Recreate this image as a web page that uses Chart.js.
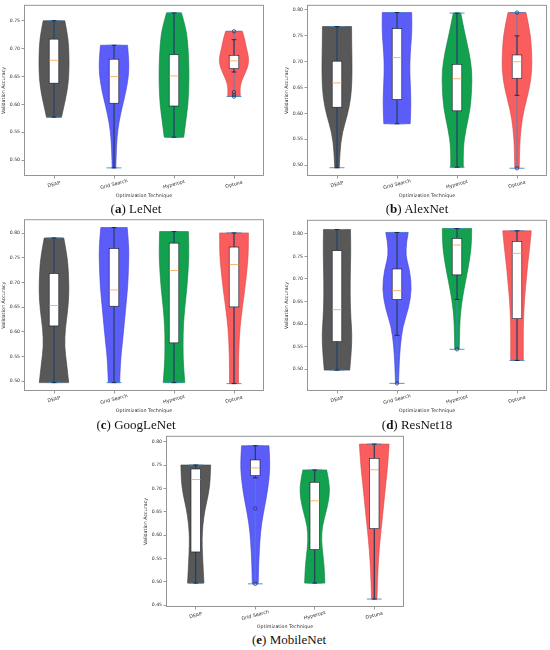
<!DOCTYPE html>
<html>
<head>
<meta charset="utf-8">
<script src="https://cdn.jsdelivr.net/npm/chart.js@4.4.1/dist/chart.umd.min.js"></script>
<style>
  body { margin: 0; background: #fff; width: 550px; height: 650px; position: relative; overflow: hidden; }
  canvas { position: absolute; }
  .cap { position: absolute; font-family: 'Liberation Serif', serif; font-size: 13px; color: #111;
         transform: translate(-50%, -50%); white-space: nowrap; }
</style>
</head>
<body>
<canvas id="lenet" width="272" height="200" style="left:0;top:0"></canvas>
<canvas id="alexnet" width="270" height="200" style="left:283px;top:0"></canvas>
<canvas id="googlenet" width="272" height="200" style="left:0;top:215px"></canvas>
<canvas id="resnet" width="270" height="200" style="left:283px;top:215px"></canvas>
<canvas id="mobilenet" width="270" height="200" style="left:142px;top:431px"></canvas>

<div class="cap" style="left:136px;top:209px">(<b>a</b>) LeNet</div>
<div class="cap" style="left:417px;top:209px">(<b>b</b>) AlexNet</div>
<div class="cap" style="left:136px;top:425px">(<b>c</b>) GoogLeNet</div>
<div class="cap" style="left:417px;top:425px">(<b>d</b>) ResNet18</div>
<div class="cap" style="left:289px;top:640px">(<b>e</b>) MobileNet</div>

<script>
const techniques = ['DEAP', 'Grid Search', 'Hyperopt', 'Optuna'];

// LeNet
const lenetMin = [0.577, 0.486, 0.541, 0.614];
const lenetMax = [0.750, 0.706, 0.764, 0.731];
const lenetQ1 = [0.638, 0.602, 0.597, 0.664];
const lenetMedian = [0.679, 0.650, 0.651, 0.678];
const lenetQ3 = [0.717, 0.681, 0.689, 0.688];
const lenetWhiskLo = [0.577, 0.486, 0.541, 0.658];
const lenetWhiskHi = [0.750, 0.706, 0.764, 0.716];
const lenetFliers = [[], [], [], [0.731, 0.622, 0.617, 0.614]];
const lenetDensity = [
  [0.50, 0.68, 0.85, 0.96, 1.00, 1.00, 0.97, 0.88, 0.72],
  [0.12, 0.15, 0.20, 0.33, 0.55, 0.80, 0.97, 1.00, 0.90],
  [0.65, 0.78, 0.92, 0.98, 1.00, 0.98, 0.92, 0.80, 0.50],
  [0.42, 0.38, 0.52, 0.78, 0.98, 0.96, 0.82, 0.72, 0.56]
];
const lenetTicks = [0.50, 0.55, 0.60, 0.65, 0.70, 0.75];
const lenetRange = [0.4714, 0.7786];

// AlexNet
const alexMin = [0.495, 0.580, 0.496, 0.494];
const alexMax = [0.768, 0.795, 0.794, 0.795];
const alexQ1 = [0.612, 0.627, 0.605, 0.668];
const alexMedian = [0.659, 0.708, 0.667, 0.700];
const alexQ3 = [0.701, 0.764, 0.695, 0.713];
const alexWhiskLo = [0.495, 0.580, 0.496, 0.635];
const alexWhiskHi = [0.768, 0.795, 0.794, 0.750];
const alexFliers = [[], [], [], [0.795, 0.494]];
const alexDensity = [
  [0.15, 0.20, 0.35, 0.70, 0.93, 1.00, 1.00, 0.98, 0.97],
  [0.88, 0.92, 0.92, 0.88, 0.85, 0.88, 0.95, 1.00, 0.98],
  [0.42, 0.40, 0.60, 0.88, 0.98, 1.00, 0.80, 0.50, 0.25],
  [0.15, 0.17, 0.25, 0.45, 0.80, 1.00, 0.98, 0.88, 0.60]
];
const alexTicks = [0.50, 0.55, 0.60, 0.65, 0.70, 0.75, 0.80];
const alexRange = [0.479, 0.810];

// GoogLeNet
const googMin = [0.497, 0.497, 0.497, 0.495];
const googMax = [0.7905, 0.8115, 0.8034, 0.8007];
const googQ1 = [0.612, 0.652, 0.5776, 0.6506];
const googMedian = [0.6534, 0.685, 0.7244, 0.7365];
const googQ3 = [0.7183, 0.769, 0.780, 0.772];
const googWhiskLo = [0.497, 0.497, 0.497, 0.495];
const googWhiskHi = [0.7905, 0.8115, 0.8034, 0.8007];
const googFliers = [[], [], [], []];
const googDensity = [
  [0.98, 0.85, 0.70, 0.75, 0.92, 1.00, 0.97, 0.88, 0.65],
  [0.38, 0.42, 0.55, 0.68, 0.80, 0.92, 0.97, 1.00, 0.88],
  [0.72, 0.62, 0.60, 0.62, 0.72, 0.86, 0.95, 1.00, 0.96],
  [0.30, 0.30, 0.33, 0.40, 0.55, 0.72, 0.86, 0.97, 0.96]
];
const googTicks = [0.50, 0.55, 0.60, 0.65, 0.70, 0.75, 0.80];
const googRange = [0.480, 0.8284];

// ResNet18
const resMin = [0.4978, 0.4684, 0.544, 0.5192];
const resMax = [0.8095, 0.8029, 0.8117, 0.8066];
const resQ1 = [0.561, 0.6544, 0.7089, 0.6118];
const resMedian = [0.6317, 0.674, 0.775, 0.7566];
const resQ3 = [0.7625, 0.722, 0.7897, 0.783];
const resWhiskLo = [0.4978, 0.575, 0.6544, 0.5192];
const resWhiskHi = [0.8095, 0.8029, 0.8117, 0.8066];
const resFliers = [[], [0.4684], [0.544], []];
const resDensity = [
  [0.85, 0.95, 1.00, 0.92, 0.88, 0.88, 0.90, 0.92, 0.90],
  [0.10, 0.14, 0.22, 0.38, 0.78, 0.98, 0.85, 0.50, 0.75],
  [0.15, 0.17, 0.20, 0.30, 0.47, 0.67, 0.85, 0.97, 0.98],
  [0.42, 0.42, 0.42, 0.45, 0.52, 0.62, 0.72, 0.85, 0.95]
];
const resTicks = [0.50, 0.55, 0.60, 0.65, 0.70, 0.75, 0.80];
const resRange = [0.4515, 0.831];

// MobileNet
const mobMin = [0.497, 0.4955, 0.497, 0.4628];
const mobMax = [0.7502, 0.7915, 0.7396, 0.795];
const mobQ1 = [0.5638, 0.7274, 0.5689, 0.6137];
const mobMedian = [0.719, 0.744, 0.6734, 0.740];
const mobQ3 = [0.7417, 0.761, 0.7132, 0.7644];
const mobWhiskLo = [0.497, 0.7225, 0.497, 0.4628];
const mobWhiskHi = [0.7502, 0.7915, 0.7396, 0.795];
const mobFliers = [[], [0.657, 0.4955], [], []];
const mobDensity = [
  [0.55, 0.50, 0.45, 0.42, 0.48, 0.62, 0.85, 0.98, 1.00],
  [0.20, 0.22, 0.28, 0.35, 0.52, 0.75, 0.92, 1.00, 0.92],
  [0.68, 0.65, 0.55, 0.45, 0.50, 0.75, 0.97, 1.00, 0.80],
  [0.18, 0.22, 0.28, 0.38, 0.52, 0.65, 0.78, 0.92, 1.00]
];
const mobTicks = [0.45, 0.50, 0.55, 0.60, 0.65, 0.70, 0.75, 0.80];
const mobRange = [0.4458, 0.8128];

// colours of the violins (DEAP, Grid Search, Hyperopt, Optuna)
const bodyColors = ['#585858', '#5c5cf8', '#13a14f', '#f95d5d'];
const edgeColors = ['#3e3e3e', '#3f3fd8', '#0b7f3c', '#d84646'];

Chart.defaults.font.family = "'DejaVu Sans', sans-serif";
Chart.defaults.color = '#333';

function drawViolins(chart, p) {
  const ctx = chart.ctx;
  const xs = chart.scales.x;
  const ys = chart.scales.y;
  const X = v => xs.getPixelForValue(v);
  const Y = v => ys.getPixelForValue(v);

  ctx.save();
  for (let i = 0; i < techniques.length; i++) {
    const pos = i + 1;
    const lo = p.min[i], hi = p.max[i];
    const dens = p.density[i];
    const n = dens.length;
    const right = [], left = [];
    for (let k = 0; k < n; k++) {
      const v = lo + (hi - lo) * k / (n - 1);
      right.push([X(pos + 0.25 * dens[k]), Y(v)]);
      left.push([X(pos - 0.25 * dens[k]), Y(v)]);
    }
    left.reverse();

    // body
    ctx.beginPath();
    ctx.moveTo(right[0][0], right[0][1]);
    for (let k = 1; k < n - 1; k++) {
      const mx = (right[k][0] + right[k + 1][0]) / 2, my = (right[k][1] + right[k + 1][1]) / 2;
      ctx.quadraticCurveTo(right[k][0], right[k][1], k === n - 2 ? right[n - 1][0] : mx, k === n - 2 ? right[n - 1][1] : my);
    }
    ctx.lineTo(left[0][0], left[0][1]);
    for (let k = 1; k < n - 1; k++) {
      const mx = (left[k][0] + left[k + 1][0]) / 2, my = (left[k][1] + left[k + 1][1]) / 2;
      ctx.quadraticCurveTo(left[k][0], left[k][1], k === n - 2 ? left[n - 1][0] : mx, k === n - 2 ? left[n - 1][1] : my);
    }
    ctx.closePath();
    ctx.fillStyle = bodyColors[i];
    ctx.fill();
    ctx.strokeStyle = edgeColors[i];
    ctx.lineWidth = 0.6;
    ctx.stroke();

    // violin bar and extrema
    ctx.strokeStyle = '#3d8cc8';
    ctx.lineWidth = 0.9;
    ctx.beginPath();
    ctx.moveTo(X(pos), Y(lo)); ctx.lineTo(X(pos), Y(hi));
    ctx.moveTo(X(pos - 0.125), Y(lo)); ctx.lineTo(X(pos + 0.125), Y(lo));
    ctx.moveTo(X(pos - 0.125), Y(hi)); ctx.lineTo(X(pos + 0.125), Y(hi));
    ctx.stroke();

    // box plot
    ctx.strokeStyle = '#15182a';
    ctx.lineWidth = 0.8;
    ctx.beginPath();
    ctx.moveTo(X(pos), Y(p.q3[i])); ctx.lineTo(X(pos), Y(p.whiskHi[i]));
    ctx.moveTo(X(pos), Y(p.q1[i])); ctx.lineTo(X(pos), Y(p.whiskLo[i]));
    ctx.moveTo(X(pos - 0.04), Y(p.whiskHi[i])); ctx.lineTo(X(pos + 0.04), Y(p.whiskHi[i]));
    ctx.moveTo(X(pos - 0.04), Y(p.whiskLo[i])); ctx.lineTo(X(pos + 0.04), Y(p.whiskLo[i]));
    ctx.stroke();

    const bx = X(pos - 0.08), bw = X(pos + 0.08) - bx;
    const by = Y(p.q3[i]), bh = Y(p.q1[i]) - by;
    ctx.fillStyle = '#ffffff';
    ctx.fillRect(bx, by, bw, bh);
    ctx.lineWidth = 0.6;
    ctx.strokeRect(bx, by, bw, bh);

    ctx.strokeStyle = '#f7a04a';
    ctx.lineWidth = 0.8;
    ctx.beginPath();
    ctx.moveTo(bx, Y(p.median[i])); ctx.lineTo(bx + bw, Y(p.median[i]));
    ctx.stroke();
  }
  ctx.restore();
}

function drawFrame(chart) {
  const ctx = chart.ctx;
  const a = chart.chartArea;
  const xs = chart.scales.x;
  ctx.save();
  ctx.strokeStyle = '#8a8a8a';
  ctx.lineWidth = 0.9;
  ctx.strokeRect(a.left + 0.5, a.top + 0.5, a.right - a.left - 1, a.bottom - a.top - 1);

  // rotated category labels, centred under their ticks
  ctx.fillStyle = '#333';
  ctx.font = "4.8px 'DejaVu Sans', sans-serif";
  ctx.textAlign = 'center';
  ctx.textBaseline = 'middle';
  techniques.forEach((t, i) => {
    ctx.save();
    ctx.translate(xs.getPixelForValue(i + 1), a.bottom + 8.5);
    ctx.rotate(-15 * Math.PI / 180);
    ctx.fillText(t, 0, 0);
    ctx.restore();
  });
  ctx.restore();
}

function makeChart(canvasId, p, padRight) {
  const fliers = [];
  p.fliers.forEach((list, i) => list.forEach(v => fliers.push({ x: i + 1, y: v })));

  return new Chart(document.getElementById(canvasId), {
    type: 'scatter',
    data: {
      datasets: [{
        data: fliers,
        pointStyle: 'circle',
        pointRadius: 1.7,
        backgroundColor: 'rgba(0,0,0,0)',
        borderColor: '#24386e',
        borderWidth: 0.8
      }]
    },
    options: {
      responsive: false,
      animation: false,
      devicePixelRatio: 1,
      layout: { padding: { top: 4, right: padRight, left: 0, bottom: 0 } },
      plugins: { legend: { display: false }, tooltip: { enabled: false } },
      scales: {
        x: {
          type: 'linear',
          min: 0.5,
          max: 4.5,
          afterBuildTicks: s => { s.ticks = techniques.map((t, i) => ({ value: i + 1 })); },
          ticks: { display: false },
          grid: { drawOnChartArea: false, drawTicks: true, tickLength: 2.5, color: '#555', lineWidth: 0.6 },
          border: { display: false },
          title: { display: true, text: 'Optimization Technique', font: { size: 4.8 }, color: '#333', padding: { top: 0, bottom: 1 } },
          afterFit: s => { s.height = 24; }
        },
        y: {
          min: p.range[0],
          max: p.range[1],
          afterBuildTicks: s => { s.ticks = p.ticks.map(v => ({ value: v })); },
          ticks: { font: { size: 4.6 }, color: '#333', padding: 1.5, callback: v => Number(v).toFixed(2) },
          grid: { drawOnChartArea: false, drawTicks: true, tickLength: 2.5, color: '#555', lineWidth: 0.6 },
          border: { display: false },
          title: { display: true, text: 'Validation Accuracy', font: { size: 4.8 }, color: '#333', padding: { top: 1, bottom: 0 } },
          afterFit: s => { s.width = 24; }
        }
      }
    },
    plugins: [{
      id: 'violins',
      beforeDatasetsDraw: chart => drawViolins(chart, p),
      afterDraw: chart => drawFrame(chart)
    }]
  });
}

makeChart('lenet', {
  min: lenetMin, max: lenetMax, q1: lenetQ1, median: lenetMedian, q3: lenetQ3,
  whiskLo: lenetWhiskLo, whiskHi: lenetWhiskHi, fliers: lenetFliers, density: lenetDensity,
  ticks: lenetTicks, range: lenetRange
}, 8);

makeChart('alexnet', {
  min: alexMin, max: alexMax, q1: alexQ1, median: alexMedian, q3: alexQ3,
  whiskLo: alexWhiskLo, whiskHi: alexWhiskHi, fliers: alexFliers, density: alexDensity,
  ticks: alexTicks, range: alexRange
}, 6);

makeChart('googlenet', {
  min: googMin, max: googMax, q1: googQ1, median: googMedian, q3: googQ3,
  whiskLo: googWhiskLo, whiskHi: googWhiskHi, fliers: googFliers, density: googDensity,
  ticks: googTicks, range: googRange
}, 8);

makeChart('resnet', {
  min: resMin, max: resMax, q1: resQ1, median: resMedian, q3: resQ3,
  whiskLo: resWhiskLo, whiskHi: resWhiskHi, fliers: resFliers, density: resDensity,
  ticks: resTicks, range: resRange
}, 6);

makeChart('mobilenet', {
  min: mobMin, max: mobMax, q1: mobQ1, median: mobMedian, q3: mobQ3,
  whiskLo: mobWhiskLo, whiskHi: mobWhiskHi, fliers: mobFliers, density: mobDensity,
  ticks: mobTicks, range: mobRange
}, 8);
</script>
</body>
</html>
